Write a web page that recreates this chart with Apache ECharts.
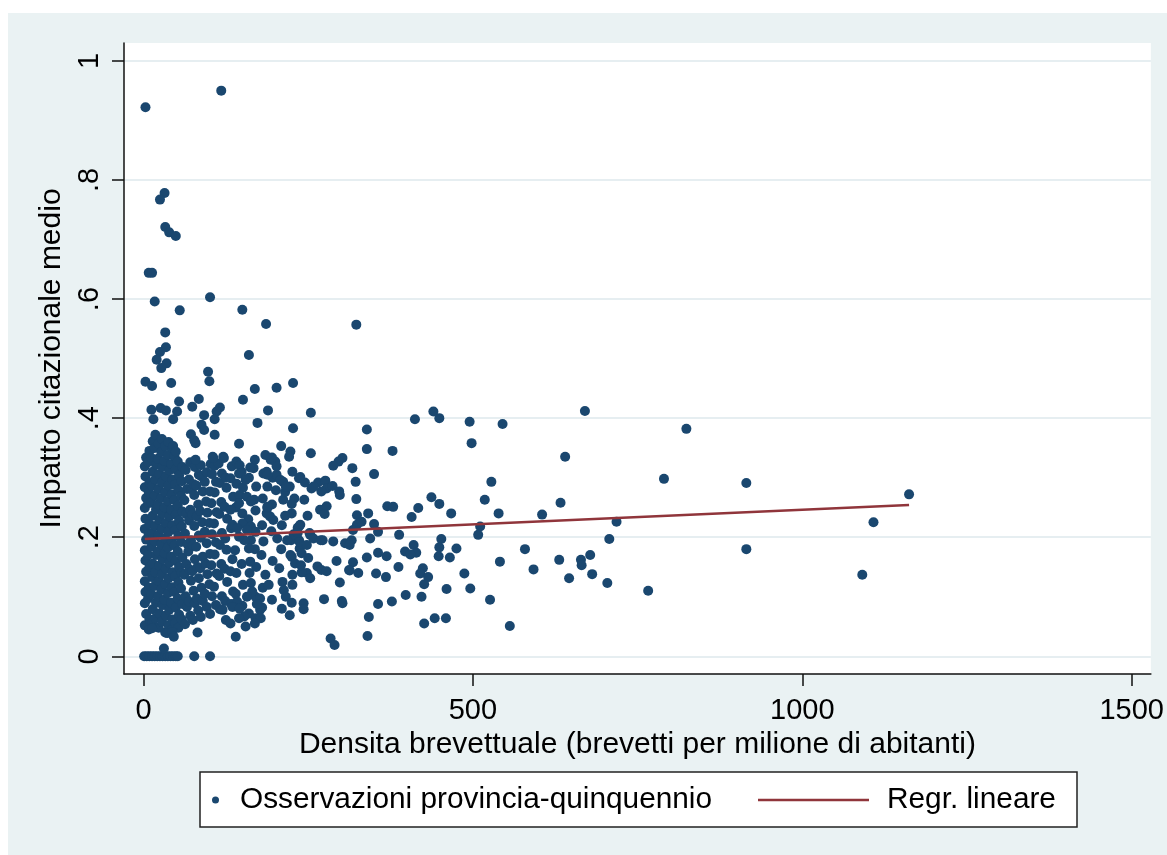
<!DOCTYPE html>
<html>
<head>
<meta charset="utf-8">
<title>Impatto citazionale e densità brevettuale</title>
<script src="https://cdn.jsdelivr.net/npm/echarts@6/dist/echarts.min.js"></script>
<style>
  html, body { margin: 0; padding: 0; background: #ffffff; }
  #chart { width: 1167px; height: 855px; }
</style>
</head>
<body>
<div id="chart"></div>
<script>
// Axis ticks and labels
const ticksX = [0, 500, 1000, 1500];
const ticksXLabel = ['0', '500', '1000', '1500'];
const ticksY = [0, 0.2, 0.4, 0.6, 0.8, 1];
const ticksYLabel = ['0', '.2', '.4', '.6', '.8', '1'];

// Observations with zero (or near zero) citation impact
const puntiZero = [
  [1,0],[5,0],[9,0],[13,0],[17,0],[21,0],[25,0],[29,0],[33,0],[37,0],[41,0],[45,0],[49,0],[52,0],
  [77,0],[101,0],[31,0.013]
];

// Dense core of low-density provinces
const puntiNucleo = [
  [2,.052],[4,.071],[2,.089],[3,.108],[2,.126],[4,.142],[3,.161],[2,.178],[4,.196],[2,.214],[3,.231],[2,.249],[4,.266],[2,.284],[3,.302],[2,.319],[4,.334],
  [8,.045],[9,.062],[7,.097],[8,.115],[9,.150],[7,.170],[8,.205],[9,.222],[7,.257],[8,.275],[9,.292],[7,.326],[9,.345],
  [13,.055],[14,.079],[12,.104],[13,.133],[14,.156],[12,.184],[13,.207],[14,.236],[12,.258],[13,.286],[14,.310],[12,.333],[14,.361],
  [18,.064],[19,.090],[17,.118],[18,.141],[19,.170],[17,.193],[18,.219],[19,.246],[17,.270],[18,.297],[19,.322],[17,.350],[18,.372],
  [23,.048],[24,.072],[22,.101],[23,.126],[24,.152],[22,.176],[23,.204],[24,.229],[22,.255],[23,.281],[24,.306],[22,.332],[23,.357],
  [28,.058],[29,.086],[27,.112],[28,.138],[29,.163],[27,.188],[28,.214],[29,.240],[27,.266],[28,.292],[29,.318],[27,.343],[28,.365],
  [33,.040],[34,.068],[32,.095],[33,.121],[34,.147],[32,.173],[33,.198],[34,.224],[32,.250],[33,.276],[34,.302],[32,.328],[33,.353],
  [38,.052],[39,.078],[37,.106],[38,.131],[39,.157],[37,.183],[38,.209],[39,.235],[37,.261],[38,.287],[39,.312],[37,.338],[38,.360],
  [43,.045],[44,.062],[42,.090],[43,.116],[44,.141],[42,.167],[43,.193],[44,.220],[42,.246],[43,.272],[44,.297],[42,.323],[44,.349],
  [48,.056],[49,.082],[47,.108],[48,.134],[49,.160],[47,.186],[48,.212],[49,.238],[47,.262],[48,.288],[49,.314],[47,.336],
  [53,.048],[54,.070],[52,.097],[53,.124],[54,.150],[52,.176],[53,.202],[54,.228],[52,.253],[53,.279],[54,.304],[52,.327],
  [58,.062],[59,.088],[57,.114],[58,.140],[59,.166],[57,.192],[58,.218],[59,.243],[57,.269],[58,.294],[59,.318],
  [63,.054],[66,.083],[64,.101],[62,.137],[65,.155],[67,.188],[63,.206],[65,.239],[62,.262],[66,.281],[64,.313],
  [71,.068],[69,.092],[72,.127],[70,.146],[68,.176],[72,.195],[69,.228],[71,.246],[73,.280],[69,.297],[71,.326],
  [75,.061],[78,.089],[76,.110],[74,.143],[78,.163],[75,.186],[77,.219],[74,.238],[77,.271],[76,.289],[78,.318],
  [83,.077],[81,.097],[84,.131],[82,.150],[80,.184],[84,.203],[81,.235],[83,.255],[80,.287],[84,.305],
  [87,.066],[90,.093],[88,.115],[86,.148],[90,.167],[87,.199],[89,.225],[86,.244],[90,.277],[88,.302],[87,.321],
  [96,.083],[93,.105],[97,.138],[94,.156],[96,.190],[93,.209],[97,.241],[95,.260],[93,.293],[96,.309],
  [101,.071],[104,.101],[100,.121],[103,.153],[101,.172],[104,.205],[100,.224],[103,.257],[101,.277],[104,.306],[102,.323],
  [110,.086],[107,.117],[111,.139],[108,.171],[110,.191],[107,.223],[111,.242],[108,.275],[110,.293],[108,.320],
  [116,.079],[119,.101],[115,.135],[118,.155],[116,.187],[119,.207],[115,.239],[118,.259],[116,.291],[119,.307],
  [124,.093],[127,.125],[123,.147],[126,.179],[124,.198],[127,.231],[123,.251],[126,.283],[125,.300],
  [133,.088],[136,.109],[132,.143],[135,.163],[133,.215],[136,.268],[132,.299],
  [13,.047],[36,.039],[44,.041],[46,.033],[82,.040]
];

// Ring of observations surrounding the core
const puntiCorona = [
  [140,.105],[141,.140],[139,.178],[140,.250],[141,.290],
  [150,.085],[151,.120],[149,.155],[150,.240],[151,.283],[149,.310],
  [160,.072],[161,.140],[159,.230],[160,.300],
  [170,.100],[171,.150],[169,.180],[170,.245],[171,.285],[169,.330],
  [180,.082],[181,.115],[179,.170],[180,.220],[181,.265],
  [195,.095],[196,.160],[194,.210],[195,.255],[196,.300],
  [210,.080],[211,.125],[209,.180],[210,.220],
  [225,.090],[226,.120],[224,.195],[225,.240],[226,.310]
];

// Intermediate band (roughly 100 to 400 patents per million)
const puntiIntermedi = [
  [302,.333],[296,.327],[288,.320],[317,.316],[350,.306],[322,.293],[238,.301],[245,.292],[265,.292],[276,.295],
  [278,.282],[270,.277],[287,.286],[297,.277],[298,.271],[255,.282],[323,.264],[370,.252],[379,.251],[268,.246],
  [278,.252],[275,.239],[341,.240],[249,.236],[324,.237],[324,.221],[318,.212],[350,.222],[356,.209],[388,.204],
  [238,.221],[253,.204],[236,.195],[272,.195],[288,.193],[306,.190],[316,.195],[313,.187],[339,.166],[356,.174],
  [369,.168],[293,.160],[318,.158],[313,.144],[326,.140],[387,.150],[353,.139],[368,.133],[298,.124],[377,.092],
  [356,.088],[301,.093],[302,.089],[274,.096],[243,.089],[243,.079],[222,.069],[342,.066],[340,.034],[284,.030],
  [290,.019],[248,.140],[253,.131],[240,.141],[264,.151],[270,.145],[278,.143],[312,.145],[225,.167],[230,.156],
  [237,.181],[240,.173],[250,.165],[237,.192],[248,.187],[234,.216],[228,.205],[252,.207],[258,.198],[269,.195],
  [344,.198],[331,.226],[244,.263],[212,.263],[215,.236],[192,.235],[197,.229],[187,.240],[212,.293],[215,.276],
  [202,.305],[222,.285],[229,.265],[225,.256],[168,.263],[146,.271],[157,.268],[200,.327],[202,.319],[182,.307],
  [187,.310],[258,.285],[105,.335],[121,.335],[114,.324],[134,.319],[141,.327],[146,.321],[145,.307],[167,.316],
  [132,.246],[145,.257],[163,.260],[150,.223],[163,.218],[170,.209],[188,.249],[236,.218],[234,.207],[203,.198],
  [218,.195],[182,.193],[163,.195],[160,.181],[162,.159],[153,.195],[145,.201],[223,.170],[239,.153],[226,.137],
  [206,.148],[185,.137],[190,.120],[213,.111],[216,.100],[163,.123],[165,.109],[177,.097],[177,.078],[170,.064],
  [178,.064],[153,.067],[155,.050],[140,.033],[145,.064],[142,.092],[135,.221],[142,.215],[125,.061],[132,.055],
  [120,.078],[135,.083],[157,.212],[172,.088],[169,.055],[157,.100],[146,.080],[162,.317],[147,.307],[155,.296],
  [193,.330],[208,.296],[216,.285],[236,.299],[188,.305],[188,.285],[201,.279],[188,.251]
];

// Sparse upper observations (higher citation impact)
const puntiAlti = [
  [3,.922],[118,.950],[32,.778],[25,.767],[33,.721],[39,.712],[49,.706],[8,.644],[13,.644],[17,.596],
  [101,.603],[55,.581],[150,.582],[186,.558],[323,.557],[33,.544],[34,.519],[25,.511],[20,.498],[35,.492],
  [27,.484],[160,.506],[98,.478],[100,.462],[3,.461],[13,.454],[42,.459],[169,.449],[202,.451],[227,.459],
  [151,.431],[54,.428],[84,.432],[74,.419],[12,.414],[26,.417],[34,.413],[51,.411],[45,.398],[15,.398],
  [116,.418],[111,.411],[92,.405],[88,.389],[92,.380],[108,.398],[189,.413],[173,.392],[227,.383],[108,.372],
  [72,.373],[77,.363],[79,.358],[145,.357],[209,.353],[223,.344],[221,.335],[185,.338],[195,.334],[254,.409],
  [412,.398],[440,.411],[449,.400],[495,.394],[545,.390],[339,.381],[498,.358],[254,.341],[339,.348],[378,.345],
  [45,.353],[49,.344],[79,.330],[106,.333],[122,.333]
];

// High-density tail
const puntiCoda = [
  [437,.267],[449,.256],[417,.249],[407,.234],[467,.240],[518,.263],[539,.240],[511,.218],[508,.204],[528,.293],
  [410,.187],[397,.176],[414,.174],[405,.171],[452,.197],[449,.183],[448,.168],[465,.166],[475,.181],[541,.159],
  [424,.148],[420,.139],[432,.133],[426,.121],[487,.139],[460,.113],[496,.114],[398,.103],[422,.100],[526,.095],
  [426,.055],[442,.064],[459,.064],[556,.051],
  [670,.412],[824,.382],[640,.335],[790,.298],[633,.258],[605,.238],[718,.226],[707,.197],[579,.180],[631,.162],
  [664,.162],[665,.153],[678,.170],[592,.146],[646,.131],[681,.138],[704,.123],[766,.110],[915,.291],[915,.180],
  [1162,.272],[1108,.225],[1091,.137]
];

// Fitted linear regression, endpoints over the observed range
const regX = [2, 1162];
const regY = [0.197, 0.254];

const osservazioni = [].concat(puntiZero, puntiNucleo, puntiCorona, puntiIntermedi, puntiAlti, puntiCoda);
const retta = regX.map((x, i) => [x, regY[i]]);

const FONT = "'Liberation Sans', Arial, Helvetica, sans-serif";
const NAVY = '#1A476F';
const MAROON = '#90353B';
const BG = '#EAF2F3';

function etichetta(values, labels) {
  return function (v) {
    for (let i = 0; i < values.length; i++) {
      if (Math.abs(values[i] - v) < 1e-9) return labels[i];
    }
    return '';
  };
}

const chart = echarts.init(document.getElementById('chart'), null, { renderer: 'canvas' });

chart.setOption({
  animation: false,
  backgroundColor: '#ffffff',
  graphic: [
    { type: 'rect', z: -10, silent: true,
      shape: { x: 8, y: 13, width: 1159, height: 842 },
      style: { fill: BG } },
    { type: 'rect', z: 1, silent: true,
      shape: { x: 200, y: 772, width: 877, height: 55 },
      style: { fill: '#ffffff', stroke: '#222222', lineWidth: 1.5 } }
  ],
  grid: {
    left: 124, top: 43, width: 1027, height: 631,
    show: true, backgroundColor: '#ffffff', borderWidth: 0
  },
  xAxis: {
    type: 'value',
    min: -29.6, max: 1529,
    name: 'Densita brevettuale (brevetti per milione di abitanti)',
    nameLocation: 'middle',
    nameGap: 51,
    nameTextStyle: { fontFamily: FONT, fontSize: 30, color: '#000' },
    axisLine: { show: true, onZero: false, lineStyle: { color: '#111', width: 1.5 } },
    axisTick: { show: true, length: 12, customValues: ticksX, lineStyle: { color: '#111', width: 1.5 } },
    axisLabel: {
      customValues: ticksX, margin: 22, fontFamily: FONT, fontSize: 29, color: '#000',
      formatter: etichetta(ticksX, ticksXLabel)
    },
    splitLine: { show: false }
  },
  yAxis: {
    type: 'value',
    min: -0.0297, max: 1.030,
    name: 'Impatto citazionale medio',
    nameLocation: 'middle',
    nameGap: 50,
    nameRotate: 90,
    nameTextStyle: { fontFamily: FONT, fontSize: 30, color: '#000' },
    axisLine: { show: true, onZero: false, lineStyle: { color: '#111', width: 1.5 } },
    axisTick: { show: true, length: 12, customValues: ticksY, lineStyle: { color: '#111', width: 1.5 } },
    axisLabel: {
      customValues: ticksY, rotate: 90, margin: 20,
      fontFamily: FONT, fontSize: 29, color: '#000',
      formatter: etichetta(ticksY, ticksYLabel)
    },
    splitLine: { show: true, lineStyle: { color: '#E6EEF1', width: 2 } }
  },
  legend: [
    {
      data: ['Osservazioni provincia-quinquennio'],
      left: 212, top: 785, padding: 0, z: 10,
      itemWidth: 7, itemHeight: 7,
      selectedMode: false,
      textStyle: { fontFamily: FONT, fontSize: 29.8, color: '#000', lineHeight: 30, padding: [0, 0, 0, 16] }
    },
    {
      data: ['Regr. lineare'],
      left: 758, top: 785, padding: 0, z: 10,
      itemWidth: 111, itemHeight: 2.5, icon: 'rect',
      selectedMode: false,
      textStyle: { fontFamily: FONT, fontSize: 29.8, color: '#000', lineHeight: 30, padding: [0, 0, 0, 13] }
    }
  ],
  series: [
    {
      name: 'Osservazioni provincia-quinquennio',
      type: 'scatter',
      data: osservazioni,
      symbol: 'circle',
      symbolSize: 10,
      itemStyle: { color: NAVY, opacity: 1 },
      emphasis: { disabled: true },
      z: 2
    },
    {
      name: 'Regr. lineare',
      type: 'line',
      data: retta,
      symbol: 'none',
      lineStyle: { color: MAROON, width: 2.5 },
      itemStyle: { color: MAROON },
      emphasis: { disabled: true },
      z: 3
    }
  ]
});
</script>
</body>
</html>
